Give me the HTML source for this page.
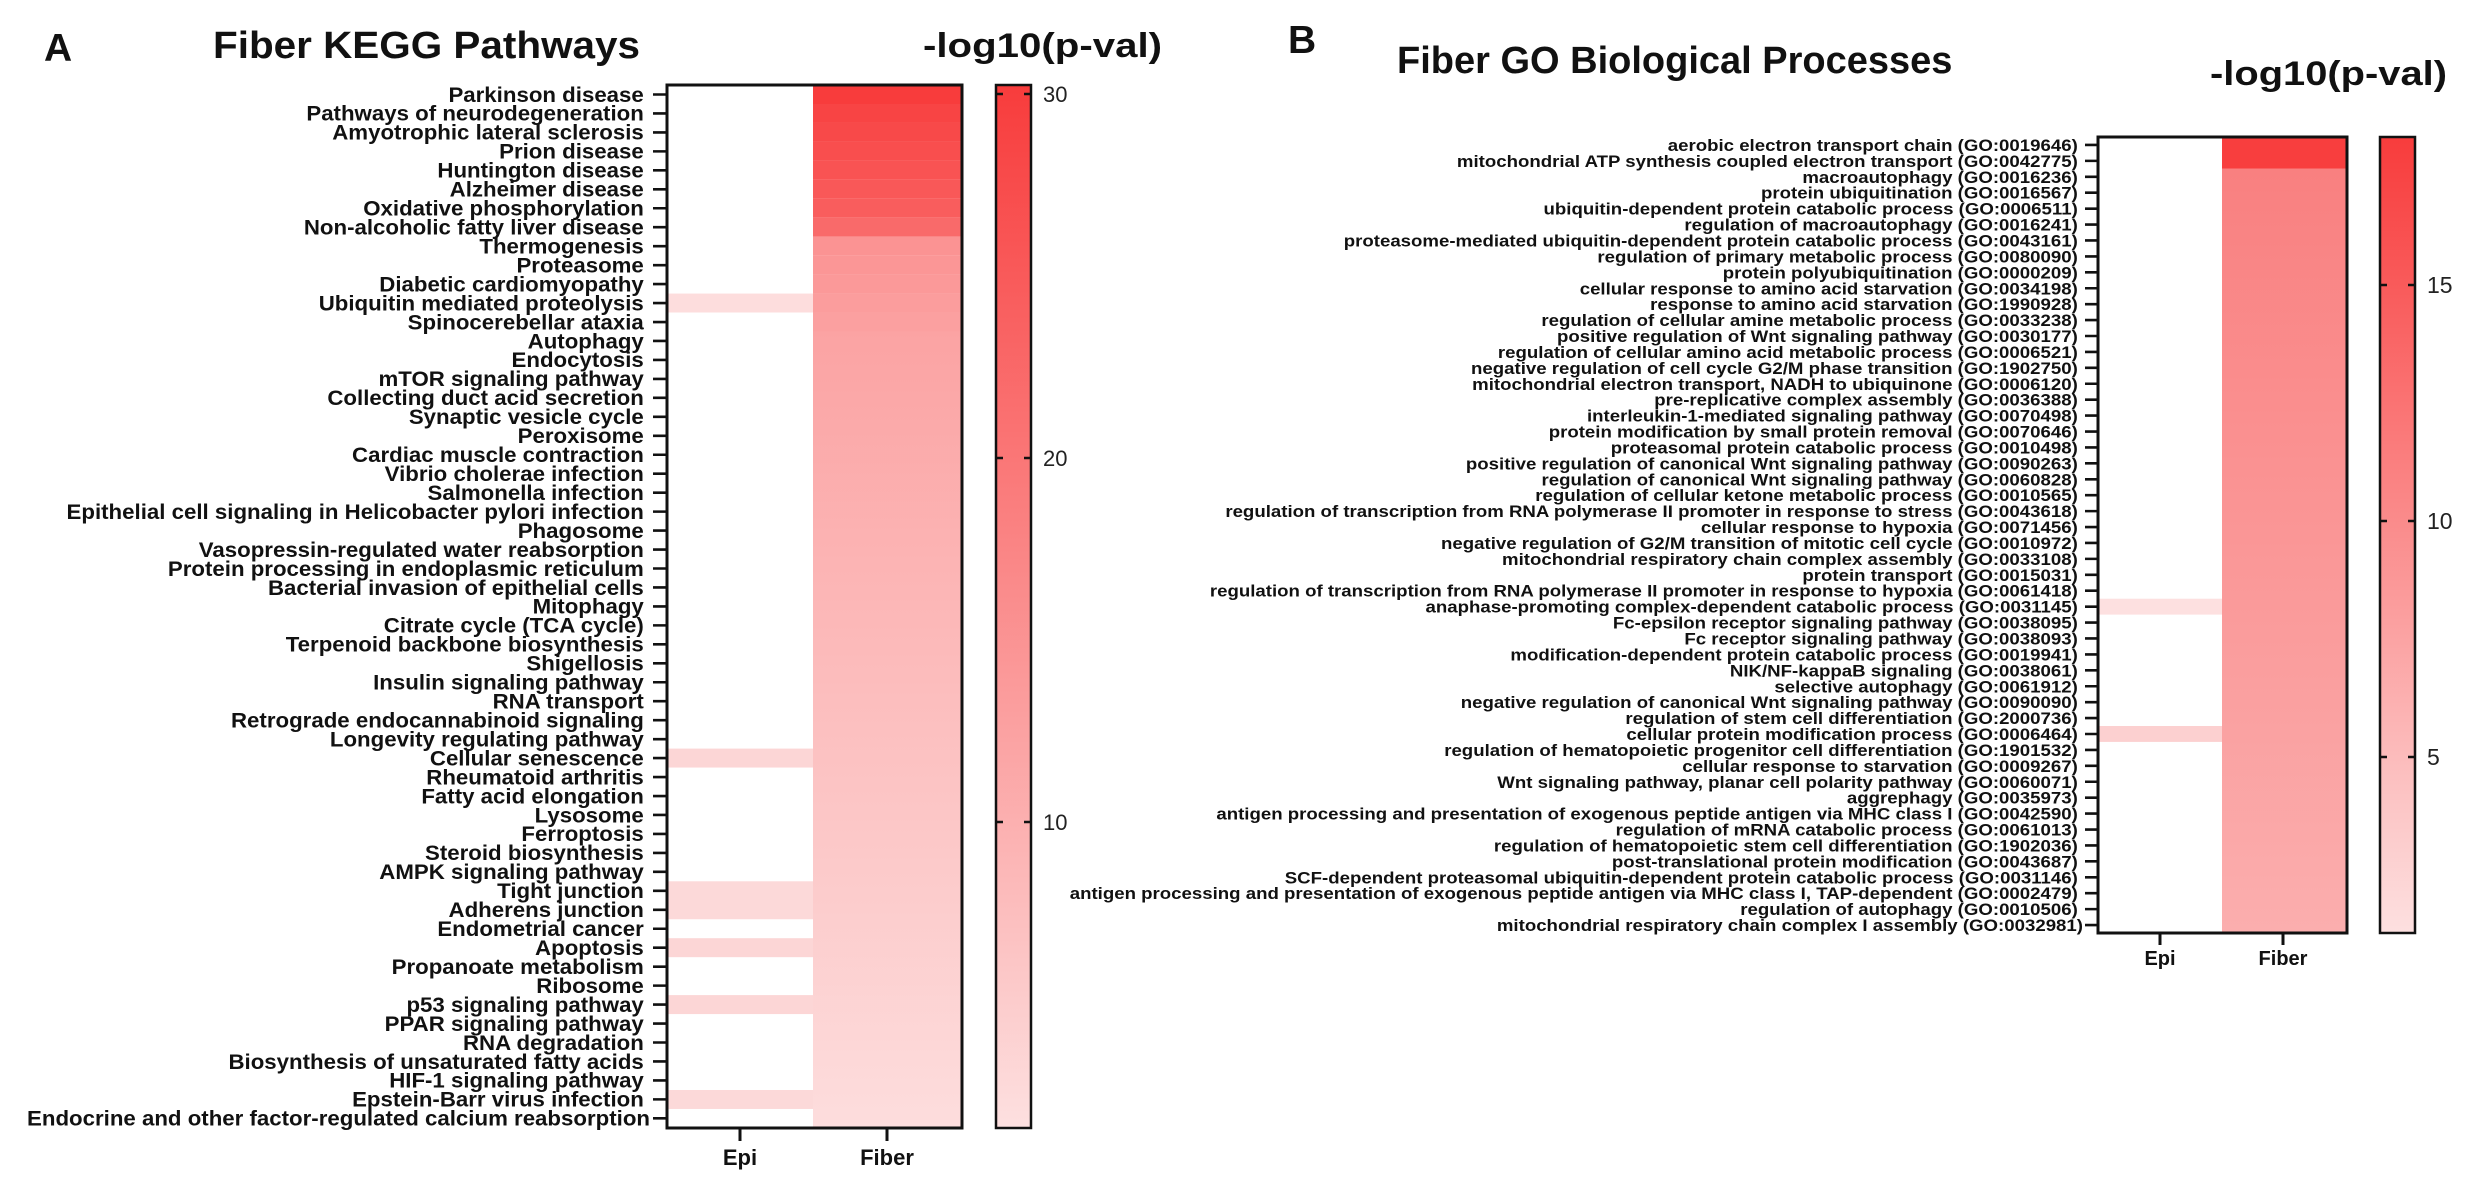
<!DOCTYPE html>
<html><head><meta charset="utf-8"><style>
html,body{margin:0;padding:0;background:#fff;}
svg{display:block;}
.t{font-family:"Liberation Sans",Arial,sans-serif;font-weight:bold;fill:#111;}
.n{font-family:"Liberation Sans",Arial,sans-serif;fill:#222;}
</style></head><body>
<svg width="2481" height="1191" viewBox="0 0 2481 1191" xmlns="http://www.w3.org/2000/svg">
<defs>
<linearGradient id="cb" x1="0" y1="0" x2="0" y2="1"><stop offset="0" stop-color="rgb(248,60,60)"/><stop offset="1" stop-color="rgb(253,224,224)"/></linearGradient>
<linearGradient id="fa" x1="0" y1="0" x2="0" y2="1"><stop offset="0" stop-color="rgb(251,163,163)"/><stop offset="1" stop-color="rgb(253,221,221)"/></linearGradient>
<linearGradient id="fb" x1="0" y1="0" x2="0" y2="1"><stop offset="0" stop-color="rgb(249,128,128)"/><stop offset="1" stop-color="rgb(251,174,174)"/></linearGradient>
</defs>
<rect width="2481" height="1191" fill="#fff"/>

<!-- Panel A -->
<text class="t" x="44" y="61" font-size="39">A</text>
<text class="t" x="213" y="58" font-size="38" textLength="427" lengthAdjust="spacingAndGlyphs">Fiber KEGG Pathways</text>
<text class="t" x="923" y="57" font-size="34" textLength="239" lengthAdjust="spacingAndGlyphs">-log10(p-val)</text>

<rect x="813" y="85" width="149" height="19" fill="rgb(248,60,60)"/>
<rect x="813" y="103.96" width="149" height="19" fill="rgb(248,68,68)"/>
<rect x="813" y="122.92" width="149" height="19" fill="rgb(248,73,73)"/>
<rect x="813" y="141.88" width="149" height="19" fill="rgb(249,78,78)"/>
<rect x="813" y="160.84" width="149" height="19" fill="rgb(249,83,83)"/>
<rect x="813" y="179.8" width="149" height="19" fill="rgb(249,88,88)"/>
<rect x="813" y="198.76" width="149" height="19" fill="rgb(249,93,93)"/>
<rect x="813" y="217.72" width="149" height="19" fill="rgb(249,106,106)"/>
<rect x="813" y="236.68" width="149" height="19" fill="rgb(251,147,147)"/>
<rect x="813" y="255.64" width="149" height="19" fill="rgb(251,150,150)"/>
<rect x="813" y="274.6" width="149" height="19" fill="rgb(251,153,153)"/>
<rect x="813" y="293.56" width="149" height="19" fill="rgb(251,157,157)"/>
<rect x="813" y="312.52" width="149" height="19" fill="rgb(251,160,160)"/>
<rect x="813" y="331.48" width="149" height="796.52" fill="url(#fa)"/>
<g fill="rgb(253,221,221)">
<rect x="667" y="293.56" width="146" height="18.96"/>
<rect x="667" y="748.6" width="146" height="18.96" fill="rgb(252,214,214)"/>
<rect x="667" y="881.3" width="146" height="37.92" fill="rgb(252,217,217)"/>
<rect x="667" y="938.2" width="146" height="18.96" fill="rgb(252,214,214)"/>
<rect x="667" y="995.1" width="146" height="18.96" fill="rgb(252,214,214)"/>
<rect x="667" y="1090" width="146" height="18.96" fill="rgb(252,217,217)"/>
</g>
<rect x="667" y="85" width="295" height="1043" fill="none" stroke="#111" stroke-width="3"/>
<line x1="660" y1="93.2" x2="660" y2="1128" stroke="#111" stroke-width="14" stroke-dasharray="2.6 16.36"/>
<line x1="740" y1="1128" x2="740" y2="1141" stroke="#111" stroke-width="3"/>
<line x1="887" y1="1128" x2="887" y2="1141" stroke="#111" stroke-width="3"/>
<text class="t" x="740" y="1165" font-size="22" text-anchor="middle">Epi</text>
<text class="t" x="887" y="1165" font-size="22" text-anchor="middle">Fiber</text>

<text class="t" font-size="21" text-anchor="end" y="101.8" transform="translate(650,0) scale(1.06,1) translate(-650,0)">
<tspan x="650" dy="0">Parkinson disease</tspan>
<tspan x="650" dy="18.96">Pathways of neurodegeneration</tspan>
<tspan x="650" dy="18.96">Amyotrophic lateral sclerosis</tspan>
<tspan x="650" dy="18.96">Prion disease</tspan>
<tspan x="650" dy="18.96">Huntington disease</tspan>
<tspan x="650" dy="18.96">Alzheimer disease</tspan>
<tspan x="650" dy="18.96">Oxidative phosphorylation</tspan>
<tspan x="650" dy="18.96">Non-alcoholic fatty liver disease</tspan>
<tspan x="650" dy="18.96">Thermogenesis</tspan>
<tspan x="650" dy="18.96">Proteasome</tspan>
<tspan x="650" dy="18.96">Diabetic cardiomyopathy</tspan>
<tspan x="650" dy="18.96">Ubiquitin mediated proteolysis</tspan>
<tspan x="650" dy="18.96">Spinocerebellar ataxia</tspan>
<tspan x="650" dy="18.96">Autophagy</tspan>
<tspan x="650" dy="18.96">Endocytosis</tspan>
<tspan x="650" dy="18.96">mTOR signaling pathway</tspan>
<tspan x="650" dy="18.96">Collecting duct acid secretion</tspan>
<tspan x="650" dy="18.96">Synaptic vesicle cycle</tspan>
<tspan x="650" dy="18.96">Peroxisome</tspan>
<tspan x="650" dy="18.96">Cardiac muscle contraction</tspan>
<tspan x="650" dy="18.96">Vibrio cholerae infection</tspan>
<tspan x="650" dy="18.96">Salmonella infection</tspan>
<tspan x="650" dy="18.96">Epithelial cell signaling in Helicobacter pylori infection</tspan>
<tspan x="650" dy="18.96">Phagosome</tspan>
<tspan x="650" dy="18.96">Vasopressin-regulated water reabsorption</tspan>
<tspan x="650" dy="18.96">Protein processing in endoplasmic reticulum</tspan>
<tspan x="650" dy="18.96">Bacterial invasion of epithelial cells</tspan>
<tspan x="650" dy="18.96">Mitophagy</tspan>
<tspan x="650" dy="18.96">Citrate cycle (TCA cycle)</tspan>
<tspan x="650" dy="18.96">Terpenoid backbone biosynthesis</tspan>
<tspan x="650" dy="18.96">Shigellosis</tspan>
<tspan x="650" dy="18.96">Insulin signaling pathway</tspan>
<tspan x="650" dy="18.96">RNA transport</tspan>
<tspan x="650" dy="18.96">Retrograde endocannabinoid signaling</tspan>
<tspan x="650" dy="18.96">Longevity regulating pathway</tspan>
<tspan x="650" dy="18.96">Cellular senescence</tspan>
<tspan x="650" dy="18.96">Rheumatoid arthritis</tspan>
<tspan x="650" dy="18.96">Fatty acid elongation</tspan>
<tspan x="650" dy="18.96">Lysosome</tspan>
<tspan x="650" dy="18.96">Ferroptosis</tspan>
<tspan x="650" dy="18.96">Steroid biosynthesis</tspan>
<tspan x="650" dy="18.96">AMPK signaling pathway</tspan>
<tspan x="650" dy="18.96">Tight junction</tspan>
<tspan x="650" dy="18.96">Adherens junction</tspan>
<tspan x="650" dy="18.96">Endometrial cancer</tspan>
<tspan x="650" dy="18.96">Apoptosis</tspan>
<tspan x="650" dy="18.96">Propanoate metabolism</tspan>
<tspan x="650" dy="18.96">Ribosome</tspan>
<tspan x="650" dy="18.96">p53 signaling pathway</tspan>
<tspan x="650" dy="18.96">PPAR signaling pathway</tspan>
<tspan x="650" dy="18.96">RNA degradation</tspan>
<tspan x="650" dy="18.96">Biosynthesis of unsaturated fatty acids</tspan>
<tspan x="650" dy="18.96">HIF-1 signaling pathway</tspan>
<tspan x="650" dy="18.96">Epstein-Barr virus infection</tspan>
<tspan x="650" dy="18.96">Endocrine and other factor-regulated calcium reabsorption</tspan>
</text>

<rect x="996" y="85" width="35" height="1043" fill="url(#cb)" stroke="#111" stroke-width="2.5"/>
<g stroke="#111" stroke-width="2.5">
<line x1="996" y1="94" x2="1003" y2="94"/><line x1="1024" y1="94" x2="1031" y2="94"/>
<line x1="996" y1="458" x2="1003" y2="458"/><line x1="1024" y1="458" x2="1031" y2="458"/>
<line x1="996" y1="822" x2="1003" y2="822"/><line x1="1024" y1="822" x2="1031" y2="822"/>
</g>
<text class="n" x="1043" y="102" font-size="22">30</text>
<text class="n" x="1043" y="466" font-size="22">20</text>
<text class="n" x="1043" y="830" font-size="22">10</text>

<!-- Panel B -->
<text class="t" x="1288" y="53" font-size="39">B</text>
<text class="t" x="1397" y="73" font-size="38">Fiber GO Biological Processes</text>
<text class="t" x="2210" y="85" font-size="34" textLength="237" lengthAdjust="spacingAndGlyphs">-log10(p-val)</text>

<rect x="2222" y="137" width="125" height="31.84" fill="rgb(248,62,62)"/>
<rect x="2222" y="168.84" width="125" height="764.16" fill="url(#fb)"/>
<rect x="2098" y="598.7" width="124" height="15.92" fill="rgb(253,224,224)"/>
<rect x="2098" y="726.0" width="124" height="15.92" fill="rgb(252,208,208)"/>
<rect x="2098" y="137" width="249" height="796" fill="none" stroke="#111" stroke-width="3"/>
<line x1="2091.5" y1="143.66" x2="2091.5" y2="933" stroke="#111" stroke-width="13" stroke-dasharray="2.6 13.32"/>
<line x1="2160" y1="933" x2="2160" y2="945" stroke="#111" stroke-width="3"/>
<line x1="2283" y1="933" x2="2283" y2="945" stroke="#111" stroke-width="3"/>
<text class="t" x="2160" y="965" font-size="20" text-anchor="middle">Epi</text>
<text class="t" x="2283" y="965" font-size="20" text-anchor="middle">Fiber</text>

<text class="t" font-size="16.5" text-anchor="end" y="151" transform="translate(2083,0) scale(1.13,1) translate(-2083,0)">
<tspan x="2083" dy="0">aerobic electron transport chain (GO:0019646)</tspan>
<tspan x="2083" dy="15.92">mitochondrial ATP synthesis coupled electron transport (GO:0042775)</tspan>
<tspan x="2083" dy="15.92">macroautophagy (GO:0016236)</tspan>
<tspan x="2083" dy="15.92">protein ubiquitination (GO:0016567)</tspan>
<tspan x="2083" dy="15.92">ubiquitin-dependent protein catabolic process (GO:0006511)</tspan>
<tspan x="2083" dy="15.92">regulation of macroautophagy (GO:0016241)</tspan>
<tspan x="2083" dy="15.92">proteasome-mediated ubiquitin-dependent protein catabolic process (GO:0043161)</tspan>
<tspan x="2083" dy="15.92">regulation of primary metabolic process (GO:0080090)</tspan>
<tspan x="2083" dy="15.92">protein polyubiquitination (GO:0000209)</tspan>
<tspan x="2083" dy="15.92">cellular response to amino acid starvation (GO:0034198)</tspan>
<tspan x="2083" dy="15.92">response to amino acid starvation (GO:1990928)</tspan>
<tspan x="2083" dy="15.92">regulation of cellular amine metabolic process (GO:0033238)</tspan>
<tspan x="2083" dy="15.92">positive regulation of Wnt signaling pathway (GO:0030177)</tspan>
<tspan x="2083" dy="15.92">regulation of cellular amino acid metabolic process (GO:0006521)</tspan>
<tspan x="2083" dy="15.92">negative regulation of cell cycle G2/M phase transition (GO:1902750)</tspan>
<tspan x="2083" dy="15.92">mitochondrial electron transport, NADH to ubiquinone (GO:0006120)</tspan>
<tspan x="2083" dy="15.92">pre-replicative complex assembly (GO:0036388)</tspan>
<tspan x="2083" dy="15.92">interleukin-1-mediated signaling pathway (GO:0070498)</tspan>
<tspan x="2083" dy="15.92">protein modification by small protein removal (GO:0070646)</tspan>
<tspan x="2083" dy="15.92">proteasomal protein catabolic process (GO:0010498)</tspan>
<tspan x="2083" dy="15.92">positive regulation of canonical Wnt signaling pathway (GO:0090263)</tspan>
<tspan x="2083" dy="15.92">regulation of canonical Wnt signaling pathway (GO:0060828)</tspan>
<tspan x="2083" dy="15.92">regulation of cellular ketone metabolic process (GO:0010565)</tspan>
<tspan x="2083" dy="15.92">regulation of transcription from RNA polymerase II promoter in response to stress (GO:0043618)</tspan>
<tspan x="2083" dy="15.92">cellular response to hypoxia (GO:0071456)</tspan>
<tspan x="2083" dy="15.92">negative regulation of G2/M transition of mitotic cell cycle (GO:0010972)</tspan>
<tspan x="2083" dy="15.92">mitochondrial respiratory chain complex assembly (GO:0033108)</tspan>
<tspan x="2083" dy="15.92">protein transport (GO:0015031)</tspan>
<tspan x="2083" dy="15.92">regulation of transcription from RNA polymerase II promoter in response to hypoxia (GO:0061418)</tspan>
<tspan x="2083" dy="15.92">anaphase-promoting complex-dependent catabolic process (GO:0031145)</tspan>
<tspan x="2083" dy="15.92">Fc-epsilon receptor signaling pathway (GO:0038095)</tspan>
<tspan x="2083" dy="15.92">Fc receptor signaling pathway (GO:0038093)</tspan>
<tspan x="2083" dy="15.92">modification-dependent protein catabolic process (GO:0019941)</tspan>
<tspan x="2083" dy="15.92">NIK/NF-kappaB signaling (GO:0038061)</tspan>
<tspan x="2083" dy="15.92">selective autophagy (GO:0061912)</tspan>
<tspan x="2083" dy="15.92">negative regulation of canonical Wnt signaling pathway (GO:0090090)</tspan>
<tspan x="2083" dy="15.92">regulation of stem cell differentiation (GO:2000736)</tspan>
<tspan x="2083" dy="15.92">cellular protein modification process (GO:0006464)</tspan>
<tspan x="2083" dy="15.92">regulation of hematopoietic progenitor cell differentiation (GO:1901532)</tspan>
<tspan x="2083" dy="15.92">cellular response to starvation (GO:0009267)</tspan>
<tspan x="2083" dy="15.92">Wnt signaling pathway, planar cell polarity pathway (GO:0060071)</tspan>
<tspan x="2083" dy="15.92">aggrephagy (GO:0035973)</tspan>
<tspan x="2083" dy="15.92">antigen processing and presentation of exogenous peptide antigen via MHC class I (GO:0042590)</tspan>
<tspan x="2083" dy="15.92">regulation of mRNA catabolic process (GO:0061013)</tspan>
<tspan x="2083" dy="15.92">regulation of hematopoietic stem cell differentiation (GO:1902036)</tspan>
<tspan x="2083" dy="15.92">post-translational protein modification (GO:0043687)</tspan>
<tspan x="2083" dy="15.92">SCF-dependent proteasomal ubiquitin-dependent protein catabolic process (GO:0031146)</tspan>
<tspan x="2083" dy="15.92">antigen processing and presentation of exogenous peptide antigen via MHC class I, TAP-dependent (GO:0002479)</tspan>
<tspan x="2083" dy="15.92">regulation of autophagy (GO:0010506)</tspan>
<tspan x="2083" dy="15.92">mitochondrial respiratory chain complex I assembly (GO:0032981)</tspan>
</text>

<rect x="2380" y="137" width="35" height="796" fill="url(#cb)" stroke="#111" stroke-width="2.5"/>
<g stroke="#111" stroke-width="2.5">
<line x1="2380" y1="285" x2="2387" y2="285"/><line x1="2408" y1="285" x2="2415" y2="285"/>
<line x1="2380" y1="521" x2="2387" y2="521"/><line x1="2408" y1="521" x2="2415" y2="521"/>
<line x1="2380" y1="757" x2="2387" y2="757"/><line x1="2408" y1="757" x2="2415" y2="757"/>
</g>
<text class="n" x="2427" y="293" font-size="23">15</text>
<text class="n" x="2427" y="529" font-size="23">10</text>
<text class="n" x="2427" y="765" font-size="23">5</text>
</svg>
</body></html>
